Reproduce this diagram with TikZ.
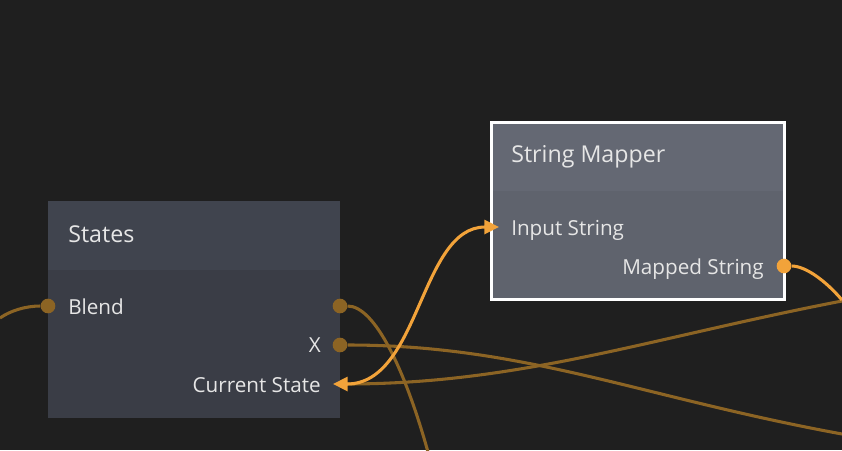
\documentclass[tikz,border=0pt]{standalone}
\usepackage{fontspec}
\setmainfont{Open Sans}
\usetikzlibrary{arrows.meta}
\definecolor{bg}{HTML}{1F1F1F}
\definecolor{shead}{HTML}{40444E}
\definecolor{sbody}{HTML}{3A3D46}
\definecolor{mhead}{HTML}{646873}
\definecolor{mbody}{HTML}{5F636D}
\definecolor{wire}{HTML}{8C6424}
\definecolor{hot}{HTML}{F2A33A}
\definecolor{txt}{HTML}{E6E6E6}
\begin{document}
\begin{tikzpicture}[x=0.75pt,y=-0.75pt,
  title/.style={font=\fontsize{17.4}{20}\selectfont, text=txt, inner sep=0pt, anchor=base west},
  lbl/.style={font=\fontsize{15.5}{18}\selectfont, text=txt, inner sep=0pt},
  port/.style={circle, fill=wire, minimum size=11pt, inner sep=0pt},
  hotport/.style={port, fill=hot},
  wirestyle/.style={draw=wire, line width=2.3pt},
  hotwire/.style={draw=hot, line width=2.3pt},
  tipA/.style={{Triangle[length=11pt,width=10.5pt]}-{Triangle[length=11pt,width=10.5pt]}},
  panel/.style={anchor=north west, inner sep=0pt, outer sep=0pt}
]
\fill[bg] (0,0) rectangle (842,450);
\useasboundingbox (0,0) rectangle (842,450);

% States node
\node[panel, fill=shead, minimum width=219pt, minimum height=51.75pt] (sthead) at (48,201) {};
\node[panel, fill=sbody, minimum width=219pt, minimum height=111pt] (stbody) at (48,270) {};
\node[title] (sttitle) at (68,242) {States};
\node[lbl, anchor=base west] (lblend) at (68,314) {Blend};
\node[lbl, anchor=base east] (lx) at (321,352.5) {X};
\node[lbl, anchor=base east] (lcs) at (321,392) {Current State};

% String Mapper node
\node[panel, fill=mbody, draw=white, line width=2.25pt, minimum width=219.75pt, minimum height=132.75pt] (mapper) at (491.5,122.5) {};
\node[panel, fill=mhead, minimum width=217.5pt, minimum height=50.25pt] (mphead) at (493,124) {};
\node[title] (mptitle) at (511,162.5) {String Mapper};
\node[lbl, anchor=base west] (lis) at (511,235) {Input String};
\node[lbl, anchor=base east] (lms) at (764,274) {Mapped String};

% ports
\node[port] (blendin) at (48,306) {};
\node[port] (p1) at (340,306) {};
\node[port] (xout) at (340,345) {};
\node[hotport] (mapout) at (784,266) {};
\coordinate (csin) at (333,384);
\coordinate (csbase) at (346,384);
\coordinate (isin) at (499,227);
\coordinate (e1) at (0,318);
\coordinate (e2) at (428,452);
\coordinate (e3) at (842,434);
\coordinate (e4) at (842,301);
\coordinate (e5) at (842,300);

% wires
\draw[wirestyle] (blendin) .. controls (25,306) and (10,311) .. (e1);
\draw[wirestyle] (p1) .. controls (375,306) and (405,370) .. (e2);
\draw[wirestyle] (xout) .. controls (525,345) and (640,397) .. (e3);
\draw[wirestyle] (e4) .. controls (650,338) and (520,384) .. (csbase);
\draw[hotwire] (mapout) .. controls (805,266) and (825,280) .. (e5);
\draw[hotwire, tipA] (csin) .. controls (420,384) and (420,227) .. (isin);
\end{tikzpicture}
\end{document}
